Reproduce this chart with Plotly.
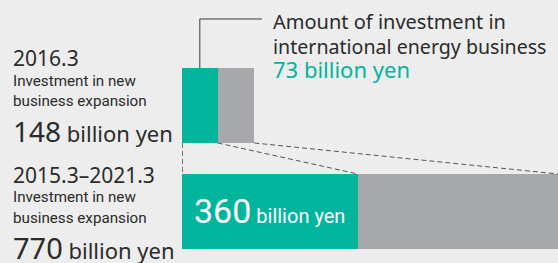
import plotly.graph_objects as go

# ---- data ----
periods = ["2015.3–2021.3", "2016.3"]
intl_energy = [360, 73]          # billion yen (green)
other_new = [410, 75]            # billion yen (gray)
totals = [770, 148]
ypos = [0, 1]

W, H = 558, 263
GREEN = "#00B59C"
GRAY = "#A7A8AB"
BG = "#ECEDEC"
TXT = "#2B2B2B"
bar_w = 0.7075

def px(xp):
    return xp / W

def py(yp):
    return 1 - yp / H

fig = go.Figure()
fig.add_trace(go.Bar(y=ypos, x=intl_energy, orientation="h", width=bar_w,
                     marker=dict(color=GREEN, line=dict(width=0)), hoverinfo="skip"))
fig.add_trace(go.Bar(y=ypos, x=other_new, orientation="h", width=bar_w,
                     marker=dict(color=GRAY, line=dict(width=0)), hoverinfo="skip"))

fig.update_layout(
    width=W, height=H, barmode="stack", showlegend=False,
    margin=dict(l=0, r=0, t=0, b=0),
    paper_bgcolor=BG, plot_bgcolor=BG,
    xaxis=dict(domain=[182 / W, 1], range=[0, totals[0]], visible=False, fixedrange=True),
    yaxis=dict(domain=[0, 1], range=[-0.486, 1.995], visible=False, fixedrange=True),
)

top_bot = ypos[1] - bar_w / 2
bot_top = ypos[0] + bar_w / 2
dash = dict(color="#555555", width=1, dash="5px,3px")
fig.add_shape(type="line", xref="x", yref="y", x0=0.6, x1=0.6, y0=top_bot, y1=bot_top, line=dash)
fig.add_shape(type="line", xref="x", yref="y", x0=intl_energy[1], x1=intl_energy[0],
              y0=top_bot, y1=bot_top, line=dash)
fig.add_shape(type="line", xref="x", yref="y", x0=totals[1], x1=totals[0],
              y0=top_bot, y1=bot_top, line=dash)

# callout
solid = dict(color="#3A3A3A", width=1)
cx = intl_energy[1] / 2
fig.add_shape(type="line", xref="x", yref="y", x0=cx, x1=cx,
              y0=ypos[1] + bar_w / 2, y1=1.816, line=solid)
fig.add_shape(type="line", xref="x", yref="y", x0=cx, x1=163.8,
              y0=1.816, y1=1.816, line=solid)

MAIN = "Noto Sans, Open Sans, sans-serif"
NARROW = "Liberation Sans Narrow, Roboto, Liberation Sans, sans-serif"

def txt(x, y, s, size, font=MAIN, color=TXT):
    fig.add_annotation(xref="paper", yref="paper", x=px(x), y=py(y), text=s,
                       showarrow=False, xanchor="left", yanchor="middle", align="left",
                       font=dict(family=font, size=size, color=color))

txt(271, 46,
    "<span style='font-size:20px'>Amount of investment in</span><br>"
    "<span style='font-size:19.6px'>international energy business</span><br>"
    f"<span style='font-size:22px;color:{GREEN}'>{intl_energy[1]} billion yen</span>", 19)

txt(11, 58, periods[1], 21)
txt(11, 81, "Investment in new", 15.2, NARROW)
txt(11, 101, "business expansion", 15.2, NARROW)
txt(11, 131, f"<span style='font-size:28px'>{totals[1]}</span> billion yen", 22)

txt(11, 175, periods[0], 21)
txt(11, 197, "Investment in new", 15.2, NARROW)
txt(11, 218, "business expansion", 15.2, NARROW)
txt(11, 247, f"<span style='font-size:29px'>{totals[0]}</span> billion yen", 22)

txt(192, 211, f"<span style='font-size:34px'>{intl_energy[0]}</span> billion yen", 20,
    NARROW, color="white")

fig.write_html("out.html", config={"displayModeBar": False, "staticPlot": True},
               post_script="document.body.style.margin='0';")
